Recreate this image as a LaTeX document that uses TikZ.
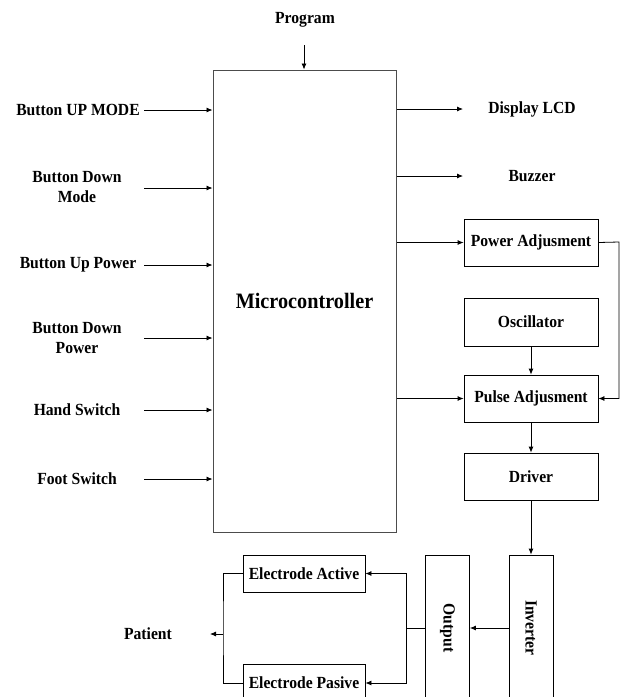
\documentclass[tikz,border=0pt]{standalone}
\usepackage{fontspec}
\setmainfont{Liberation Serif}[FakeStretch=0.92]
\usetikzlibrary{arrows.meta}
\begin{document}
\begin{tikzpicture}[x=1pt,y=-1pt,
  lbl/.style={font=\fontsize{17}{20}\selectfont\bfseries, align=center, inner sep=0pt},
  blk/.style={draw=black, line width=0.8pt, font=\fontsize{17}{20}\selectfont\bfseries, inner sep=0pt, minimum width=134pt, minimum height=47pt},
  ebox/.style={draw=black, line width=0.8pt, font=\fontsize{17}{20}\selectfont\bfseries, inner sep=0pt, minimum width=122pt},
  vbox/.style={draw=black, line width=0.8pt, font=\fontsize{17}{20}\selectfont\bfseries, inner sep=0pt, minimum width=44pt, minimum height=146pt},
  arr/.style={line width=0.8pt, -{Latex[length=6pt,width=5pt]}},
  ln/.style={line width=0.8pt}]
\useasboundingbox (0,0) rectangle (622,697);
% microcontroller
\node[draw=black!70, line width=1pt, minimum width=183pt, minimum height=462pt, inner sep=0pt,
      font=\fontsize{22}{26}\selectfont\bfseries] (mc) at (304.5,301) {\raisebox{-1pt}{Microcontroller}};
% program
\node[lbl] (prog) at (305,20) {Program};
\coordinate (p1) at (304,45);
\draw[arr] (p1) -- (p1 |- mc.north);
% inputs
\node[lbl] (i1) at (78,110) {Button UP MODE};
\node[lbl] (i2) at (77,187) {Button Down\\Mode};
\node[lbl] (i3) at (78,265) {Button Up Power};
\node[lbl] (i4) at (77,338) {Button Down\\Power};
\node[lbl] (i5) at (77,410) {Hand Switch};
\node[lbl] (i6) at (77,479) {Foot Switch};
\foreach \n/\y in {1/110,2/188,3/265,4/338,5/410,6/479}{
  \coordinate (s\n) at (144,\y);
  \draw[arr] (s\n) -- (s\n -| mc.west);
}
% outputs
\node[lbl] (lcd) at (532,109) {Display LCD};
\node[lbl] (buz) at (532,176) {Buzzer};
\coordinate (lcdin) at (463,109);
\coordinate (buzin) at (463,176);
\draw[arr] (lcdin -| mc.east) -- (lcdin);
\draw[arr] (buzin -| mc.east) -- (buzin);
\node[blk] (pa) at (531,242.5) {Power Adjusment};
\node[blk, minimum height=48pt] (osc) at (531,322) {Oscillator};
\node[blk] (pul) at (531,398.5) {Pulse Adjusment};
\node[blk] (drv) at (531,476.5) {Driver};
\draw[arr] (pa.west -| mc.east) -- (pa.west);
\draw[arr] (pul.west -| mc.east) -- (pul.west);
\draw[arr] (osc) -- (pul);
\draw[arr] (pul) -- (drv);
\coordinate (rt) at (619,242);
\draw[arr] (pa.east) -- (rt) -- (rt |- pul.east) -- (pul.east);
% inverter / output
\node[vbox] (inv) at (531,628) {\rotatebox{-90}{Inverter}};
\node[vbox] (out) at (447.5,628) {\rotatebox{-90}{Output}};
\draw[arr] (drv) -- (inv);
\draw[arr] (inv) -- (out);
\node[ebox, minimum height=37pt] (ea) at (304,573.5) {Electrode Active};
\node[ebox, minimum height=38pt] (ep) at (304,683) {Electrode Pasive};
\coordinate (sp) at (406,628);
\draw[ln] (out.west) -- (sp);
\draw[arr] (sp) |- (ea.east);
\draw[arr] (sp) |- (ep.east);
\coordinate (lp) at (223,628);
\draw[ln] (ea.west) -| (lp) |- (ep.west);
\node[lbl] (pat) at (148,634) {Patient};
\coordinate (pj) at (223,634);
\draw[arr] (pj) -- (210,634);
\end{tikzpicture}
\end{document}
